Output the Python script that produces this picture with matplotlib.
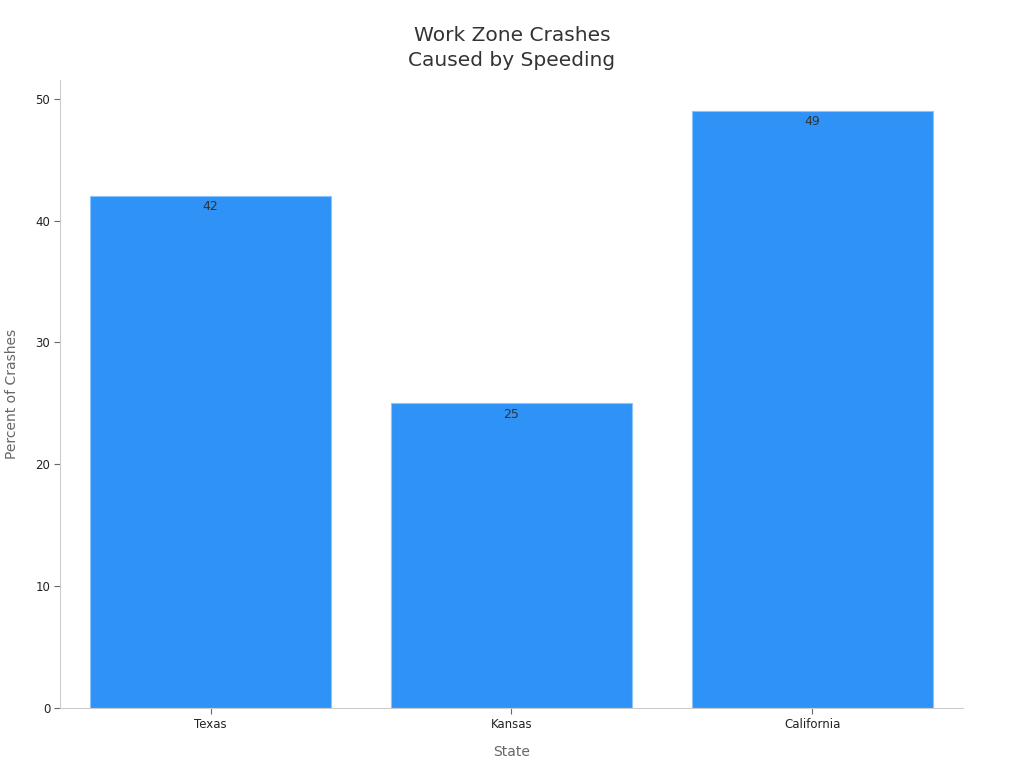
import matplotlib.pyplot as plt

states = ["Texas", "Kansas", "California"]
percent = [42, 25, 49]

fig = plt.figure(figsize=(10.24, 7.68), dpi=100)
ax = fig.add_axes([0.0586, 0.078, 0.8818, 0.818])

x = range(len(states))
bars = ax.bar(x, percent, width=0.8, color="#2e92f7", edgecolor="#8cc4fb", linewidth=0.8)

for xi, v in zip(x, percent):
    ax.annotate(str(v), (xi, v), xytext=(0, -3), textcoords="offset points",
                ha="center", va="top", fontsize=9, color="#333333")

ax.set_xlim(-0.5, 2.5)
ax.set_ylim(0, 51.55)
ax.set_xticks(list(x))
ax.set_xticklabels(states)
ax.set_yticks([0, 10, 20, 30, 40, 50])

for side in ["top", "right"]:
    ax.spines[side].set_visible(False)
for side in ["left", "bottom"]:
    ax.spines[side].set_color("#cccccc")
    ax.spines[side].set_linewidth(0.8)
ax.tick_params(axis="both", colors="#666666", labelcolor="#222222", labelsize=8.5, length=4, width=0.8, pad=3)

ax.set_xlabel("State", fontsize=10, color="#666666", labelpad=10)
ax.set_ylabel("Percent of Crashes", fontsize=10, color="#666666", labelpad=12)
fig.suptitle("Work Zone Crashes\nCaused by Speeding", fontsize=14.5, color="#333333", y=0.966, linespacing=1.42)

fig.savefig("out.png", dpi=100)
